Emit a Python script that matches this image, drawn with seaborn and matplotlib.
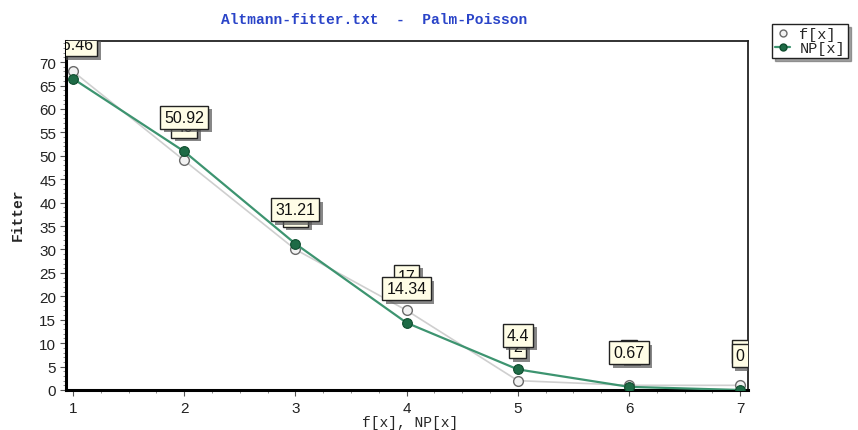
import matplotlib
matplotlib.use("Agg")
import matplotlib.pyplot as plt
import matplotlib.patheffects as pe
from matplotlib.ticker import MultipleLocator
from matplotlib.lines import Line2D
import pandas as pd
import seaborn as sns

# Observed frequencies f[x] and fitted Palm-Poisson values NP[x]
x_vals = [1, 2, 3, 4, 5, 6, 7]
f_obs = [68, 49, 30, 17, 2, 1, 1]
np_fit = [66.46, 50.92, 31.21, 14.34, 4.4, 0.67, 0]

title_text = "Altmann-fitter.txt  -  Palm-Poisson"
x_label = "f[x], NP[x]"
y_label = "Fitter"
series_names = ["f[x]", "NP[x]"]

df = pd.DataFrame({"x": x_vals, "f": f_obs, "NP": np_fit})

sns.set_style("ticks")
plt.rcParams["font.family"] = ["Liberation Sans", "DejaVu Sans"]

mono = ["Liberation Mono", "DejaVu Sans Mono"]
green_line = "#3d9470"
green_mark = "#1e6b46"
grey_line = "#cfcfcf"

fig = plt.figure(figsize=(8.58, 4.31), dpi=100)
ax = fig.add_axes([66 / 858, 1 - 391 / 431, (748 - 66) / 858, (391 - 42) / 431])

sns.lineplot(data=df, x="x", y="f", ax=ax, color=grey_line, lw=1.2,
             marker="o", markersize=7, markerfacecolor="#f2f2f2",
             markeredgecolor="#6a6a6a", markeredgewidth=1.0, zorder=3)
sns.lineplot(data=df, x="x", y="NP", ax=ax, color=green_line, lw=1.6,
             marker="o", markersize=7, markerfacecolor=green_mark,
             markeredgecolor="#0f4d2e", markeredgewidth=0.8, zorder=4)

ax.set_xlim(0.937, 7.07)
ax.set_ylim(0, 74.5)
ax.xaxis.set_major_locator(MultipleLocator(1))
ax.xaxis.set_minor_locator(MultipleLocator(0.25))
ax.yaxis.set_major_locator(MultipleLocator(5))
ax.yaxis.set_minor_locator(MultipleLocator(1))
ax.tick_params(axis="both", which="major", length=4, width=0.8,
               color="#555555", labelsize=11, labelcolor="#222222")
ax.tick_params(axis="x", which="major", pad=4)
ax.tick_params(axis="y", which="major", pad=3)
ax.tick_params(axis="both", which="minor", length=2, width=0.6, color="#777777")

for side in ("left", "bottom"):
    ax.spines[side].set_linewidth(2.2)
    ax.spines[side].set_color("black")
for side in ("top", "right"):
    ax.spines[side].set_visible(True)
    ax.spines[side].set_linewidth(1.3)
    ax.spines[side].set_color("#222222")

ax.set_xlabel(x_label, family=mono, fontsize=10.5)
ax.set_ylabel(y_label, family=mono, fontsize=10.5, weight="bold")
ax.xaxis.set_label_coords((410 - 66) / (748 - 66), -(416 - 391) / (391 - 42))
ax.yaxis.set_label_coords(-(66 - 25) / (748 - 66), (391 - 215) / (391 - 42))

fig.text(374 / 858, 1 - 20 / 431, title_text, family=mono, fontsize=10.5,
         weight="bold", color="#2a44c8", ha="center", va="center")

shadow = [pe.withSimplePatchShadow(offset=(2.5, -2.5), shadow_rgbFace="#555555", alpha=0.7)]


def value_label(xv, yv, z):
    ann = ax.annotate(f"{yv:g}", xy=(xv, yv), xytext=(0, 24.5),
                      textcoords="offset points", ha="center", va="center",
                      fontsize=11.5, color="#111111", zorder=z, clip_on=True,
                      bbox=dict(boxstyle="square,pad=0.25", fc="#fffde6",
                                ec="#222222", lw=1.0))
    ann.get_bbox_patch().set_path_effects(shadow)
    return ann


for xv, yv in zip(x_vals, f_obs):
    value_label(xv, yv, 6)
for xv, yv in zip(x_vals, np_fit):
    value_label(xv, yv, 7)

handles = [
    Line2D([], [], color=grey_line, lw=0, marker="o", markersize=5,
           markerfacecolor="#f2f2f2", markeredgecolor="#6a6a6a"),
    Line2D([], [], color=green_line, lw=1.6, marker="o", markersize=5,
           markerfacecolor=green_mark, markeredgecolor="#0f4d2e"),
]
leg = fig.legend(handles, series_names, loc="upper left",
                 bbox_to_anchor=(772 / 858, 1 - 25 / 431), frameon=True,
                 fancybox=False, shadow=True, prop={"family": mono, "size": 11},
                 handlelength=1.0, handletextpad=0.6, borderpad=0.2,
                 labelspacing=0.0, borderaxespad=0)
leg.get_frame().set_edgecolor("#222222")
leg.get_frame().set_linewidth(1.0)

fig.savefig("out.png", dpi=100)
